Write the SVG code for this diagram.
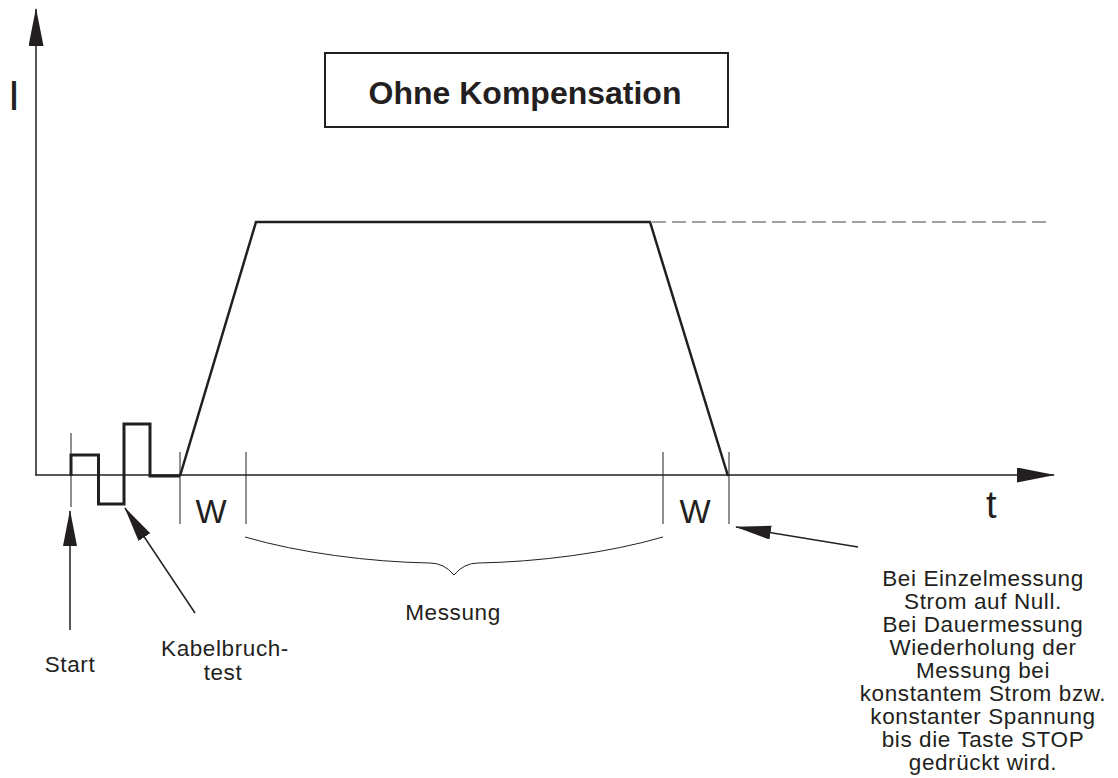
<svg xmlns="http://www.w3.org/2000/svg" width="1118" height="778" viewBox="0 0 1118 778">
<style>
.ax{stroke:#231f20;stroke-width:1.5;fill:none}
.tk{stroke:#231f20;stroke-width:1;fill:none}
.wave{stroke:#231f20;stroke-width:3;fill:none;stroke-linejoin:miter}
.dash{stroke:#444;stroke-width:1.2;stroke-dasharray:14 6;fill:none}
.ptr{stroke:#231f20;stroke-width:1.5;fill:none}
text{font-family:"Liberation Sans",Arial,sans-serif;fill:#231f20}
.lbl{font-size:22.5px;letter-spacing:0.6px;text-anchor:middle}
</style>
<defs>
<marker id="ah" markerUnits="userSpaceOnUse" markerWidth="38" markerHeight="16" refX="37" refY="7.5" orient="auto">
<path d="M0,0 L38,7.5 L0,15 z" fill="#231f20"/>
</marker>
<marker id="ah2" markerUnits="userSpaceOnUse" markerWidth="36" markerHeight="15" refX="35" refY="7" orient="auto">
<path d="M0,0 L36,7 L0,14 z" fill="#231f20"/>
</marker>
</defs>
<rect width="1118" height="778" fill="#fff"/>

<g id="axes">
<line class="ax" x1="36" y1="475" x2="36" y2="9" marker-end="url(#ah)"/>
<line class="ax" x1="35" y1="475" x2="1054" y2="475" marker-end="url(#ah)"/>
<text x="8" y="110" font-size="43">I</text>
<text x="986" y="518" font-size="38">t</text>
</g>

<g id="title">
<rect x="325" y="53" width="403" height="74" fill="none" stroke="#231f20" stroke-width="2"/>
<text x="525" y="104" font-size="32" font-weight="bold" text-anchor="middle">Ohne Kompensation</text>
</g>

<g id="ticks">
<line class="tk" x1="71" y1="433" x2="71" y2="507"/>
<line class="tk" x1="180" y1="452" x2="180" y2="524"/>
<line class="tk" x1="246" y1="452" x2="246" y2="524"/>
<line class="tk" x1="663" y1="452" x2="663" y2="524"/>
<line class="tk" x1="729" y1="452" x2="729" y2="524"/>
</g>

<g id="waveform">
<polyline class="wave" points="71,476 71,455 98.5,455 98.5,504 124,504 124,424 150,424 150,476 180,476"/>
<polyline class="wave" style="stroke-width:2.5" points="180,476 256,222 650,222 728,476"/>
<line class="dash" x1="652" y1="222" x2="1050" y2="222"/>
</g>

<g id="w-labels">
<text x="211" y="523" font-size="33" text-anchor="middle">W</text>
<text x="695" y="523" font-size="33" text-anchor="middle">W</text>
</g>

<g id="brace">
<path class="tk" d="M245,537 C300,553 370,562 430,563 Q444,563 454,575 Q464,563 478,563 C538,562 608,553 663,537"/>
<text class="lbl" x="453" y="620">Messung</text>
</g>

<g id="connectors">
<line class="ptr" x1="70" y1="630" x2="70" y2="511" marker-end="url(#ah2)"/>
<line class="ptr" x1="195" y1="613" x2="125" y2="508" marker-end="url(#ah2)"/>
<line class="ptr" x1="858" y1="547" x2="736" y2="527" marker-end="url(#ah2)"/>
</g>

<g id="start-label">
<text class="lbl" x="70" y="672">Start</text>
</g>

<g id="kabel-label">
<text class="lbl" x="225" y="656">Kabelbruch-</text>
<text class="lbl" x="223" y="680">test</text>
</g>

<g id="note">
<text class="lbl" x="983" y="586">Bei Einzelmessung</text>
<text class="lbl" x="983" y="609">Strom auf Null.</text>
<text class="lbl" x="983" y="632">Bei Dauermessung</text>
<text class="lbl" x="983" y="655">Wiederholung der</text>
<text class="lbl" x="983" y="678">Messung bei</text>
<text class="lbl" x="983" y="701">konstantem Strom bzw.</text>
<text class="lbl" x="983" y="724">konstanter Spannung</text>
<text class="lbl" x="983" y="747">bis die Taste STOP</text>
<text class="lbl" x="983" y="770">gedrückt wird.</text>
</g>
</svg>
